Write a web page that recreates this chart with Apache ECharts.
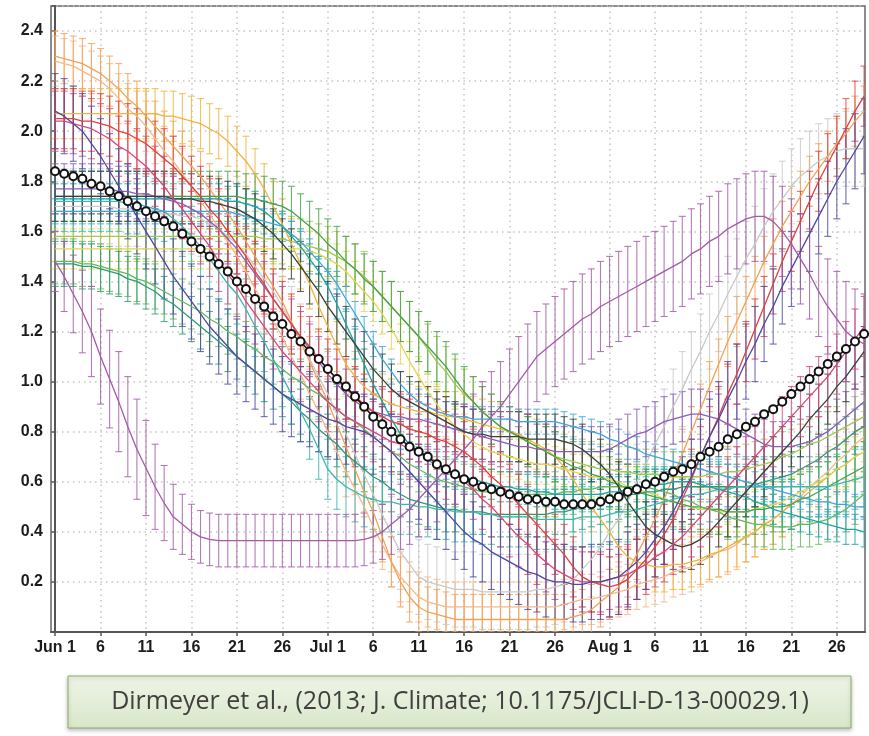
<!DOCTYPE html>
<html><head><meta charset="utf-8">
<script src="https://cdn.jsdelivr.net/npm/echarts@6/dist/echarts.min.js"></script>
<style>html,body{margin:0;padding:0;background:#fff}#c{width:869px;height:736px}</style>
</head><body><div id="c"></div>
<script>
// tick positions (days since Jun 1) and their labels
const tickDays = [0,5,10,15,20,25,30,35,40,45,50,55,61,66,71,76,81,86];
const tickLabels = ['Jun 1','6','11','16','21','26','Jul 1','6','11','16','21','26','Aug 1','6','11','16','21','26'];
const caption = 'Dirmeyer et al., (2013; J. Climate; 10.1175/JCLI-D-13-00029.1)';

// daily values, Jun 1 .. Aug 29 (90 days)
const orange1 = [2.30,2.29,2.28,2.27,2.25, 2.23,2.20,2.17,2.13,2.10, 2.06,2.02,1.98,1.94,1.90, 1.86,1.82,1.77,1.72,1.67,
 1.62,1.56,1.50,1.44,1.38, 1.32,1.24,1.16,1.08,1.00, 0.92,0.83,0.74,0.65,0.56, 0.48,0.38,0.28,0.20,0.14,
 0.10,0.08,0.07,0.06,0.05, 0.05,0.05,0.05,0.05,0.05, 0.05,0.05,0.05,0.05,0.05, 0.05,0.05,0.06,0.07,0.09,
 0.12,0.15,0.18,0.24,0.31, 0.38,0.45,0.53,0.62,0.71, 0.80,0.89,0.98,1.07,1.16, 1.24,1.32,1.40,1.48,1.55,
 1.62,1.68,1.74,1.80,1.85, 1.90,1.95,1.99,2.04,2.08];
const orange2 = [2.28,2.27,2.26,2.24,2.22, 2.20,2.17,2.13,2.09,2.06, 2.02,1.97,1.92,1.88,1.83, 1.78,1.72,1.67,1.61,1.56,
 1.50,1.44,1.37,1.31,1.24, 1.18,1.10,1.03,0.95,0.88, 0.80,0.72,0.64,0.57,0.50, 0.42,0.35,0.28,0.22,0.18,
 0.14,0.12,0.11,0.10,0.10, 0.10,0.10,0.10,0.10,0.10, 0.10,0.10,0.10,0.10,0.10, 0.10,0.11,0.12,0.13,0.13,
 0.14,0.15,0.16,0.17,0.19, 0.20,0.21,0.22,0.24,0.25, 0.26,0.28,0.30,0.32,0.33, 0.35,0.38,0.40,0.43,0.45,
 0.48,0.51,0.54,0.58,0.61, 0.64,0.68,0.71,0.75,0.78];
const goldOrange = [2.07,2.07,2.07,2.07,2.07, 2.07,2.07,2.07,2.07,2.07, 2.07,2.07,2.06,2.06,2.05, 2.04,2.03,2.01,1.99,1.96,
 1.92,1.88,1.83,1.77,1.70, 1.63,1.55,1.47,1.39,1.30, 1.22,1.14,1.07,1.02,0.98, 0.95,0.93,0.91,0.90,0.89,
 0.88,0.88,0.87,0.86,0.86, 0.85,0.84,0.83,0.82,0.81, 0.80,0.79,0.77,0.75,0.73, 0.70,0.66,0.61,0.55,0.50,
 0.45,0.40,0.34,0.30,0.28, 0.27,0.26,0.26,0.27,0.27, 0.28,0.29,0.31,0.32,0.34, 0.36,0.38,0.40,0.43,0.45,
 0.48,0.51,0.53,0.56,0.59, 0.62,0.65,0.67,0.70,0.72];
const red = [2.05,2.05,2.05,2.04,2.04, 2.03,2.02,2.00,1.99,1.97, 1.95,1.92,1.89,1.86,1.82, 1.78,1.74,1.69,1.65,1.60,
 1.55,1.50,1.44,1.39,1.33, 1.28,1.23,1.18,1.14,1.09, 1.05,1.01,0.97,0.94,0.91, 0.88,0.86,0.84,0.83,0.81,
 0.80,0.79,0.77,0.76,0.74, 0.72,0.69,0.66,0.62,0.59, 0.55,0.51,0.47,0.43,0.39, 0.35,0.31,0.26,0.22,0.20,
 0.19,0.18,0.19,0.21,0.25, 0.29,0.34,0.39,0.45,0.53, 0.61,0.70,0.78,0.86,0.95, 1.03,1.12,1.21,1.30,1.39,
 1.48,1.56,1.64,1.72,1.80, 1.87,1.94,2.01,2.08,2.14];
const pink = [2.04,2.04,2.03,2.02,2.01, 1.99,1.97,1.94,1.92,1.89, 1.86,1.82,1.78,1.73,1.69, 1.64,1.59,1.54,1.48,1.43,
 1.38,1.32,1.27,1.22,1.17, 1.12,1.08,1.04,1.00,0.96, 0.92,0.89,0.86,0.84,0.82, 0.80,0.78,0.76,0.75,0.73,
 0.72,0.70,0.68,0.65,0.63, 0.60,0.57,0.53,0.50,0.46, 0.42,0.38,0.35,0.31,0.28, 0.25,0.23,0.21,0.20,0.20,
 0.20,0.21,0.22,0.23,0.25, 0.27,0.30,0.32,0.35,0.38, 0.42,0.46,0.50,0.54,0.58, 0.62,0.66,0.70,0.74,0.78,
 0.82,0.86,0.90,0.94,0.98, 1.02,1.07,1.12,1.17,1.22];
const indigo = [2.08,2.06,2.03,2.00,1.95, 1.90,1.84,1.78,1.72,1.66, 1.60,1.54,1.48,1.42,1.37, 1.32,1.27,1.22,1.18,1.14,
 1.10,1.07,1.04,1.01,0.98, 0.95,0.93,0.91,0.89,0.87, 0.85,0.84,0.82,0.81,0.80, 0.78,0.75,0.72,0.68,0.64,
 0.60,0.56,0.52,0.48,0.44, 0.40,0.37,0.35,0.32,0.30, 0.28,0.26,0.24,0.23,0.21, 0.20,0.20,0.19,0.19,0.20,
 0.20,0.21,0.22,0.25,0.28, 0.32,0.37,0.42,0.48,0.55, 0.62,0.70,0.78,0.85,0.93, 1.00,1.08,1.15,1.23,1.30,
 1.38,1.45,1.52,1.59,1.66, 1.73,1.80,1.86,1.92,1.98];
const purple = [1.48,1.42,1.35,1.28,1.20, 1.10,1.01,0.92,0.82,0.73, 0.655,0.58,0.515,0.46,0.43, 0.40,0.38,0.37,0.365,0.365,
 0.365,0.365,0.365,0.365,0.365, 0.365,0.365,0.365,0.365,0.365, 0.365,0.365,0.365,0.365,0.37, 0.38,0.40,0.43,0.46,0.49,
 0.53,0.57,0.61,0.65,0.69, 0.73,0.77,0.82,0.86,0.90, 0.95,1.00,1.05,1.10,1.13, 1.16,1.19,1.22,1.25,1.27,
 1.30,1.32,1.34,1.36,1.38, 1.40,1.42,1.44,1.46,1.48, 1.51,1.53,1.56,1.58,1.61, 1.63,1.65,1.66,1.66,1.64,
 1.60,1.55,1.49,1.43,1.36, 1.30,1.25,1.20,1.17,1.15];
const purpleErr = [0.12,0.14,0.155,0.165,0.18, 0.19,0.195,0.20,0.20,0.20, 0.19,0.17,0.15,0.13,0.12, 0.11,0.105,0.105,0.105,0.105,
 0.105,0.105,0.105,0.105,0.105, 0.105,0.105,0.105,0.105,0.105, 0.105,0.105,0.105,0.105,0.105, 0.105,0.11,0.12,0.13,0.14,
 0.15,0.16,0.17,0.17,0.18, 0.18,0.18,0.18,0.18,0.18, 0.18,0.18,0.18,0.18,0.18, 0.18,0.18,0.18,0.18,0.18,
 0.18,0.18,0.18,0.18,0.18, 0.18,0.18,0.18,0.18,0.18, 0.18,0.18,0.18,0.18,0.18, 0.18,0.18,0.18,0.18,0.18,
 0.18,0.18,0.18,0.18,0.18, 0.19,0.19,0.20,0.20,0.20];
const lavender = [1.77,1.77,1.77,1.77,1.77, 1.77,1.77,1.76,1.76,1.75, 1.75,1.74,1.73,1.72,1.71, 1.69,1.67,1.64,1.61,1.57,
 1.53,1.48,1.43,1.38,1.33, 1.28,1.23,1.18,1.13,1.08, 1.03,0.99,0.95,0.92,0.90, 0.88,0.87,0.86,0.86,0.85,
 0.85,0.84,0.83,0.82,0.81, 0.80,0.79,0.78,0.77,0.76, 0.75,0.74,0.74,0.73,0.73, 0.72,0.72,0.72,0.72,0.72,
 0.72,0.73,0.75,0.77,0.79, 0.80,0.82,0.84,0.85,0.86, 0.87,0.87,0.86,0.85,0.83, 0.81,0.79,0.77,0.75,0.74,
 0.74,0.74,0.75,0.76,0.78, 0.80,0.83,0.86,0.89,0.92];
const darkSlate = [1.74,1.74,1.74,1.74,1.74, 1.74,1.74,1.74,1.74,1.74, 1.74,1.74,1.74,1.73,1.73, 1.73,1.72,1.72,1.71,1.70,
 1.69,1.67,1.65,1.62,1.59, 1.55,1.51,1.46,1.41,1.36, 1.30,1.25,1.20,1.15,1.10, 1.05,1.01,0.97,0.94,0.92,
 0.90,0.88,0.86,0.84,0.82, 0.80,0.79,0.79,0.78,0.78, 0.78,0.78,0.77,0.77,0.77, 0.77,0.76,0.75,0.73,0.70,
 0.67,0.63,0.58,0.52,0.47, 0.42,0.39,0.37,0.35,0.34, 0.35,0.37,0.40,0.44,0.48, 0.52,0.56,0.60,0.64,0.68,
 0.72,0.76,0.80,0.85,0.89, 0.93,0.98,1.02,1.07,1.12];
const green = [1.74,1.74,1.74,1.74,1.74, 1.74,1.74,1.74,1.74,1.74, 1.74,1.74,1.74,1.74,1.74, 1.74,1.74,1.74,1.74,1.74,
 1.74,1.73,1.73,1.72,1.71, 1.70,1.68,1.65,1.62,1.59, 1.55,1.52,1.48,1.45,1.41, 1.38,1.34,1.30,1.26,1.22,
 1.18,1.14,1.10,1.06,1.01, 0.96,0.92,0.88,0.85,0.82, 0.80,0.78,0.76,0.74,0.72, 0.70,0.68,0.66,0.65,0.63,
 0.62,0.60,0.59,0.57,0.56, 0.55,0.54,0.53,0.52,0.51, 0.50,0.50,0.49,0.49,0.48, 0.48,0.48,0.49,0.49,0.50,
 0.50,0.51,0.53,0.54,0.56, 0.58,0.60,0.62,0.64,0.66];
const cyanBlue = [1.68,1.68,1.68,1.68,1.68, 1.68,1.68,1.68,1.68,1.68, 1.68,1.68,1.68,1.68,1.68, 1.68,1.68,1.68,1.68,1.68,
 1.67,1.66,1.65,1.64,1.63, 1.62,1.59,1.56,1.52,1.48, 1.44,1.39,1.33,1.27,1.21, 1.15,1.09,1.04,0.99,0.95,
 0.92,0.90,0.88,0.87,0.86, 0.86,0.85,0.85,0.85,0.85, 0.85,0.84,0.84,0.84,0.84, 0.84,0.83,0.82,0.81,0.80,
 0.79,0.77,0.76,0.74,0.73, 0.71,0.70,0.69,0.68,0.67, 0.66,0.65,0.64,0.63,0.62, 0.61,0.60,0.59,0.58,0.57,
 0.56,0.55,0.54,0.53,0.52, 0.52,0.51,0.51,0.50,0.50];
const lightGreen = [1.58,1.58,1.58,1.58,1.58, 1.58,1.58,1.58,1.58,1.58, 1.58,1.58,1.58,1.58,1.58, 1.58,1.58,1.58,1.58,1.58,
 1.58,1.58,1.58,1.57,1.57, 1.57,1.56,1.55,1.54,1.53, 1.52,1.50,1.48,1.45,1.42, 1.38,1.34,1.30,1.26,1.22,
 1.18,1.13,1.08,1.04,0.99, 0.95,0.92,0.88,0.85,0.82, 0.80,0.78,0.76,0.74,0.72, 0.70,0.69,0.68,0.67,0.66,
 0.65,0.65,0.64,0.64,0.63, 0.63,0.63,0.62,0.62,0.62, 0.62,0.62,0.63,0.63,0.64, 0.64,0.65,0.66,0.67,0.68,
 0.70,0.71,0.73,0.75,0.76, 0.78,0.80,0.82,0.84,0.86];
const yellow = [1.53,1.53,1.53,1.53,1.53, 1.53,1.53,1.53,1.53,1.53, 1.53,1.53,1.53,1.53,1.53, 1.53,1.53,1.53,1.53,1.53,
 1.53,1.53,1.53,1.53,1.53, 1.53,1.53,1.53,1.52,1.51, 1.49,1.47,1.44,1.40,1.36, 1.32,1.27,1.21,1.15,1.08,
 1.02,0.96,0.91,0.86,0.82, 0.79,0.76,0.74,0.72,0.71, 0.70,0.69,0.68,0.67,0.67, 0.66,0.65,0.64,0.63,0.62,
 0.62,0.61,0.60,0.58,0.57, 0.56,0.55,0.53,0.52,0.51, 0.50,0.49,0.49,0.48,0.48, 0.48,0.48,0.49,0.50,0.51,
 0.52,0.54,0.56,0.58,0.60, 0.62,0.65,0.67,0.70,0.72];
const green2 = [1.48,1.48,1.48,1.47,1.47, 1.46,1.45,1.44,1.43,1.41, 1.40,1.38,1.36,1.34,1.32, 1.30,1.28,1.25,1.23,1.20,
 1.18,1.15,1.13,1.10,1.08, 1.05,1.02,1.00,0.97,0.95, 0.92,0.89,0.86,0.84,0.81, 0.78,0.75,0.72,0.70,0.67,
 0.65,0.63,0.61,0.60,0.59, 0.58,0.57,0.56,0.56,0.55, 0.55,0.55,0.55,0.55,0.55, 0.55,0.56,0.56,0.57,0.57,
 0.58,0.58,0.58,0.58,0.58, 0.58,0.57,0.56,0.55,0.53, 0.52,0.50,0.49,0.48,0.46, 0.45,0.44,0.43,0.43,0.42,
 0.42,0.42,0.43,0.43,0.44, 0.45,0.47,0.49,0.52,0.55];
const seaGreen = [1.47,1.47,1.47,1.46,1.46, 1.45,1.44,1.43,1.41,1.40, 1.38,1.36,1.33,1.31,1.28, 1.25,1.22,1.19,1.16,1.13,
 1.10,1.07,1.04,1.01,0.98, 0.95,0.92,0.88,0.85,0.81, 0.78,0.75,0.71,0.68,0.65, 0.62,0.60,0.57,0.55,0.53,
 0.52,0.51,0.50,0.49,0.49, 0.48,0.48,0.48,0.47,0.47, 0.47,0.47,0.47,0.47,0.47, 0.48,0.48,0.49,0.50,0.51,
 0.52,0.53,0.54,0.55,0.55, 0.56,0.56,0.57,0.57,0.58, 0.58,0.58,0.58,0.58,0.58, 0.58,0.58,0.59,0.60,0.61,
 0.62,0.63,0.65,0.67,0.69, 0.72,0.74,0.77,0.80,0.82];
const teal = [1.73,1.73,1.73,1.73,1.73, 1.73,1.73,1.73,1.73,1.73, 1.73,1.73,1.73,1.73,1.73, 1.73,1.73,1.73,1.73,1.72,
 1.72,1.71,1.70,1.68,1.65, 1.62,1.58,1.54,1.49,1.44, 1.38,1.31,1.23,1.15,1.07, 0.99,0.92,0.85,0.79,0.75,
 0.72,0.69,0.66,0.64,0.63, 0.62,0.61,0.60,0.59,0.58, 0.58,0.57,0.57,0.56,0.56, 0.55,0.55,0.55,0.55,0.55,
 0.55,0.56,0.56,0.57,0.58, 0.58,0.59,0.59,0.60,0.60, 0.60,0.59,0.58,0.57,0.56, 0.55,0.54,0.52,0.51,0.49,
 0.48,0.47,0.46,0.45,0.44, 0.43,0.42,0.41,0.41,0.40];
const earlyTeal = [1.72,1.72,1.72,1.72,1.72, 1.72,1.72,1.72,1.71,1.71, 1.70,1.69,1.68,1.65,1.62, 1.58,1.54,1.49,1.44,1.39,
 1.35,1.29,1.22,1.16,1.09, 1.02,0.95,0.88,0.81,0.73, 0.65,0.61,0.58,0.56,0.54, 0.53,0.52,0.52,0.51,0.51,
 0.50,0.50,0.49,0.49,0.48, 0.48,0.48,0.47,0.47,0.46, 0.46,0.46,0.46,0.45,0.45, 0.45,0.45,0.45,0.46,0.46,
 0.46,0.47,0.48,0.48,0.49, 0.50,0.51,0.52,0.53,0.54, 0.55,0.55,0.56,0.57,0.57, 0.58,0.58,0.58,0.58,0.58,
 0.58,0.58,0.58,0.58,0.58, 0.58,0.59,0.60,0.61,0.62];
const grey = [1.70,1.70,1.70,1.70,1.70, 1.70,1.70,1.69,1.69,1.69, 1.68,1.68,1.67,1.67,1.66, 1.66,1.65,1.63,1.61,1.58,
 1.55,1.51,1.46,1.41,1.36, 1.30,1.23,1.16,1.09,1.02, 0.95,0.87,0.79,0.71,0.63, 0.55,0.47,0.39,0.32,0.27,
 0.22,0.20,0.19,0.18,0.17, 0.17,0.17,0.16,0.16,0.16, 0.16,0.16,0.16,0.17,0.17, 0.18,0.19,0.21,0.25,0.29,
 0.34,0.40,0.45,0.52,0.60, 0.67,0.75,0.82,0.90,0.97, 1.05,1.12,1.20,1.27,1.35, 1.42,1.49,1.55,1.62,1.68,
 1.73,1.78,1.82,1.85,1.88, 1.90,1.92,1.93,1.93,1.93];
const meanCurve = [1.84,1.83,1.82,1.81,1.79, 1.78,1.76,1.74,1.72,1.70, 1.68,1.66,1.64,1.62,1.59, 1.56,1.53,1.50,1.47,1.44,
 1.40,1.37,1.33,1.30,1.26, 1.23,1.19,1.16,1.12,1.09, 1.05,1.01,0.98,0.94,0.90, 0.86,0.83,0.80,0.77,0.74,
 0.72,0.70,0.67,0.65,0.63, 0.61,0.60,0.58,0.57,0.56, 0.55,0.54,0.53,0.53,0.52, 0.52,0.51,0.51,0.51,0.51,
 0.52,0.53,0.54,0.56,0.57, 0.59,0.60,0.62,0.64,0.65, 0.67,0.70,0.72,0.74,0.77, 0.79,0.82,0.84,0.87,0.89,
 0.92,0.95,0.98,1.01,1.04, 1.07,1.10,1.13,1.16,1.19];

// series: [values, colour, error half-width (number or array)]
const members = [
  [grey, '#c9c9c9', 0.15],
  [orange2, '#f6b888', 0.10],
  [orange1, '#f2a257', 0.10],
  [goldOrange, '#f0b33d', 0.10],
  [yellow, '#e3d551', 0.08],
  [lightGreen, '#a5c54b', 0.10],
  [green, '#45a348', 0.10],
  [green2, '#67b85b', 0.09],
  [seaGreen, '#2e9c72', 0.09],
  [earlyTeal, '#3cb8ae', 0.12],
  [teal, '#1fa3a6', 0.06],
  [cyanBlue, '#3fa6dc', 0.05],
  [lavender, '#8d5bb8', 0.10],
  [darkSlate, '#34423c', 0.10],
  [pink, '#d9477b', 0.12],
  [red, '#e3403d', 0.12],
  [indigo, '#4b4aa3', 0.15],
  [purple, '#a35aa8', purpleErr]
];

const series = [];
members.forEach(function (m) {
  const vals = m[0], col = m[1], err = m[2];
  const lineData = vals.map(function (v, i) { return [i, v]; });
  const barData = vals.map(function (v, i) {
    const e = Array.isArray(err) ? err[i] : err;
    return [i, v - e, v + e];
  });
  series.push({
    type: 'custom', data: barData, clip: true, silent: true,
    encode: { x: 0, y: [1, 2] },
    renderItem: function (params, api) {
      const x = api.value(0);
      const top = api.coord([x, api.value(2)]);
      const bot = api.coord([x, api.value(1)]);
      const hw = 3.5;
      const st = { stroke: col, lineWidth: 1.1, opacity: 0.8 };
      return { type: 'group', children: [
        { type: 'line', shape: { x1: top[0], y1: top[1], x2: bot[0], y2: bot[1] }, style: st },
        { type: 'line', shape: { x1: top[0] - hw, y1: top[1], x2: top[0] + hw, y2: top[1] }, style: st },
        { type: 'line', shape: { x1: bot[0] - hw, y1: bot[1], x2: bot[0] + hw, y2: bot[1] }, style: st }
      ]};
    }
  });
  series.push({
    type: 'line', data: lineData, showSymbol: false, silent: true, smooth: false,
    lineStyle: { color: col, width: 1.3 }, clip: true
  });
});
series.push({
  type: 'line', data: meanCurve.map(function (v, i) { return [i, v]; }),
  symbol: 'circle', symbolSize: 8, silent: true, z: 10,
  itemStyle: { color: '#ffffff', borderColor: '#111111', borderWidth: 2 },
  lineStyle: { color: '#111111', width: 1.5 }
});

const labelFont = { fontFamily: 'Liberation Sans, Arial, sans-serif', fontWeight: 'bold', fontSize: 16, color: '#1c1c1c' };
const chart = echarts.init(document.getElementById('c'), null, { renderer: 'canvas' });
chart.setOption({
  animation: false,
  backgroundColor: '#ffffff',
  grid: { left: 51, right: 4, top: 6, bottom: 104, show: true, borderColor: '#666', borderWidth: 1.5 },
  xAxis: {
    type: 'value', min: -0.45, max: 89.1,
    axisLine: { show: true, lineStyle: { color: '#555', width: 2 } },
    axisTick: { show: true, customValues: tickDays, length: 4, lineStyle: { color: '#555', width: 1.5 } },
    axisLabel: Object.assign({ customValues: tickDays, margin: 8,
      formatter: function (v) { const k = tickDays.indexOf(Math.round(v)); return k >= 0 ? tickLabels[k] : ''; } }, labelFont),
    splitLine: { show: true, lineStyle: { color: '#c4c4c4', width: 1.5, type: [1.5, 4] } }
  },
  yAxis: {
    type: 'value', min: 0, max: 2.5, interval: 0.2,
    axisLine: { show: true, lineStyle: { color: '#555', width: 2 } },
    axisTick: { show: true, length: 4, lineStyle: { color: '#555', width: 1.5 } },
    axisLabel: Object.assign({ margin: 8,
      formatter: function (v) { return (v < 0.1 || v > 2.45) ? '' : v.toFixed(1); } }, labelFont),
    splitLine: { show: true, lineStyle: { color: '#c4c4c4', width: 1.5, type: [1.5, 4] } }
  },
  graphic: [
    { type: 'rect', shape: { x: 68, y: 676, width: 783, height: 52 },
      style: { fill: new echarts.graphic.LinearGradient(0, 0, 0, 1, [{ offset: 0, color: '#eef4e7' }, { offset: 1, color: '#d9e7c9' }]),
        stroke: '#8cad69', lineWidth: 1, shadowBlur: 4, shadowOffsetY: 2, shadowColor: 'rgba(0,0,0,0.25)' } },
    { type: 'text', x: 460, y: 702,
      style: { text: caption, align: 'center', verticalAlign: 'middle', fontSize: 25,
        fontFamily: 'Open Sans, Liberation Sans, sans-serif', fill: '#404040' } }
  ],
  series: series
});
</script>
</body></html>
